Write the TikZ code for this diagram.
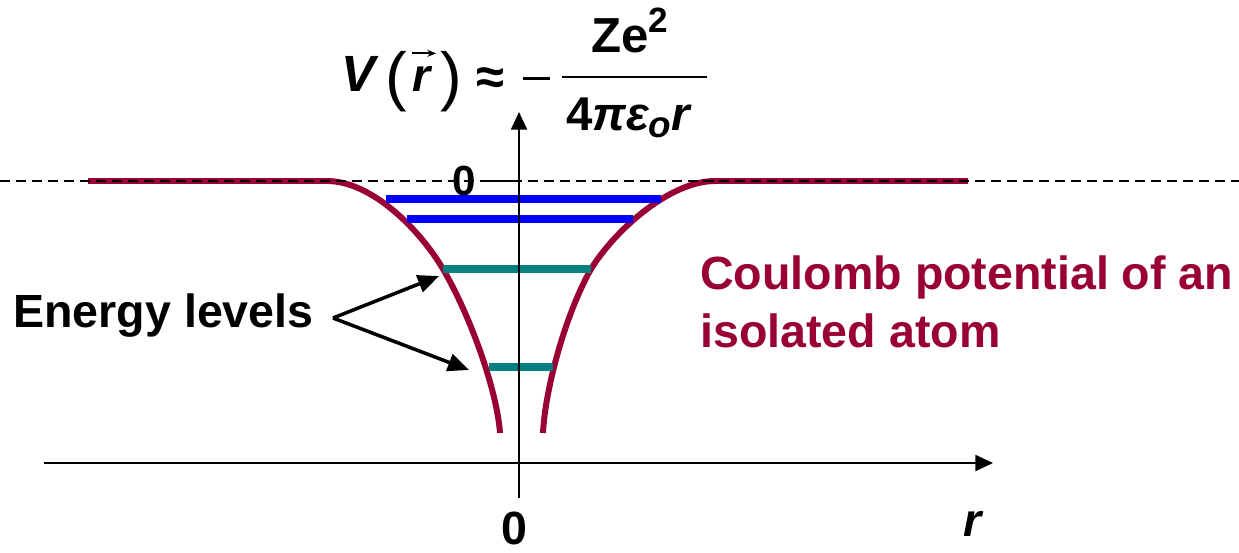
\documentclass[tikz,border=0pt]{standalone}
\usepackage{fontspec}
\setmainfont{Liberation Sans}
\usetikzlibrary{arrows.meta}
\definecolor{wine}{RGB}{153,0,51}
\definecolor{lvlblue}{RGB}{0,0,255}
\definecolor{lvlteal}{RGB}{0,128,128}

\begin{document}
\begin{tikzpicture}[x=0.02cm, y=-0.02cm, every node/.style={font=\bfseries\fontsize{26.5}{33}\selectfont, inner sep=0pt}, >={Triangle[length=10pt,width=9pt]},
	pot/.style={wine, line width=3.4pt, line join=round},
	lvl/.style={line width=4pt},
	axis/.style={line width=1.4pt},
	pointer/.style={-{Triangle[length=12pt,width=10pt]}, line width=2pt},
	slanted/.style={font=\bfseries\itshape\fontsize{26.5}{33}\selectfont},
	paren/.style={font=\fontsize{37}{40}\selectfont, anchor=base}]
	\useasboundingbox (0,0) rectangle (1239,552);
	\draw[pot] (88,181) -- (327,181) .. controls (372,181) and (420,230) .. (443,269) .. controls (470,315) and (497,390) .. (500,433);
	\draw[pot] (968,181) -- (715,181) .. controls (670,181) and (615,230) .. (591,269) .. controls (565,315) and (545,390) .. (543,433);
	\draw[lvl, lvlblue] (386,199) -- (661,199);
	\draw[lvl, lvlblue] (407,219) -- (633,219);
	\draw[lvl, lvlteal] (443,269) -- (591,269);
	\draw[lvl, lvlteal] (489,367) -- (553,367);
	\draw[line width=1.1pt, dash pattern=on 5.7pt off 3.4pt] (0,181) -- (1239,181);
	\draw[axis, ->] (44,463) -- (993,463);
	\draw[axis, ->] (519,498) -- (519,112);
	\draw[axis] (483,181) -- (519,181);
	\node[anchor=base, font=\bfseries\fontsize{24}{28}\selectfont] (vzero) at (464,195) {0};
	\node[anchor=base] (rzero) at (514,544) {0};
	\node[slanted, anchor=base] (rlabel) at (973,536) {r};
	\node[anchor=base west] (elev) at (13,327) {Energy levels};
	\node[wine, anchor=base west, align=left] (coulomb) at (700,347) {Coulomb potential of an\\isolated atom};
	\coordinate (fork) at (333,318);
	\coordinate (upper) at (439,276);
	\coordinate (lower) at (469,370);
	\draw[pointer] (fork) -- (upper);
	\draw[pointer] (fork) -- (lower);
	\node[slanted, anchor=base west, font=\bfseries\itshape\fontsize{29}{34}\selectfont] (vsym) at (341,91) {V};
	\node[paren] (lpar) at (396,98) {(};
	\node[slanted, anchor=base west] (rvec) at (412,91) {r};
	\draw[-{Stealth[length=5pt,width=4pt]}, line width=1pt] ([yshift=7pt]rvec.north west) -- ([yshift=7pt, xshift=3pt]rvec.north east);
	\node[paren] (rpar) at (451,98) {)};
	\node[anchor=base, font=\bfseries\fontsize{29}{34}\selectfont] (approx) at (490,94) {≈};
	\node[anchor=west] (minus) at (523,78) {\rule{15.4pt}{1.7pt}};
	\draw[line width=1.2pt] (562,77) -- (707,77);
	\node[anchor=base, font=\bfseries\fontsize{28}{33}\selectfont] (num) at (630,52) {Ze\raisebox{11pt}{\fontsize{20}{24}\selectfont 2}};
	\node[anchor=base, font=\bfseries\fontsize{27}{33}\selectfont] (den) at (628,130) {4{\itshape πε\raisebox{-4pt}{\fontsize{21}{24}\selectfont o}r}};
\end{tikzpicture}
\end{document}
